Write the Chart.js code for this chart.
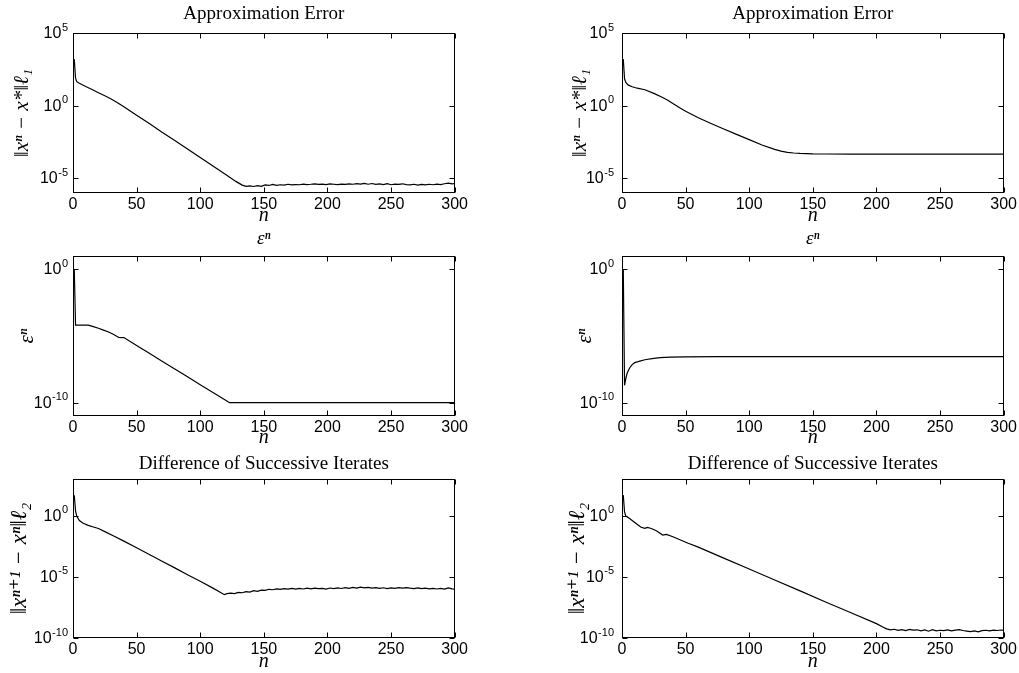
<!DOCTYPE html>
<html>
<head>
<meta charset="utf-8">
<title>Convergence history</title>
<script src="https://cdn.jsdelivr.net/npm/chart.js@4.4.1/dist/chart.umd.min.js"></script>
<style>
  html, body { margin: 0; padding: 0; background: #fff; }
  #fig { position: relative; width: 1019px; height: 673px; overflow: hidden; }
  .panel { position: absolute; }
</style>
</head>
<body>
<div id="fig"></div>
<script>
// approximation error, first run
const errLeftN = [
  1, 2, 3, 5, 10, 15, 20, 25, 30, 35,
  40, 50, 60, 70, 80, 90, 100, 110, 120, 128,
  133, 136, 139, 142, 145, 148, 151, 154, 157, 160,
  163, 166, 169, 172, 175, 178, 181, 184, 187, 190,
  193, 196, 199, 202, 205, 208, 211, 214, 217, 220,
  223, 226, 229, 232, 235, 238, 241, 244, 247, 250,
  253, 256, 259, 262, 265, 268, 271, 274, 277, 280,
  283, 286, 289, 292, 295, 298, 300
]
const errLeftY = [
  1.6e3, 79, 45, 35, 21, 13, 7.9, 4.8, 2.9, 1.6,
  0.85, 0.22, 0.059, 0.015, 4.0e-3, 1.05e-3, 2.75e-4, 7.1e-5, 1.86e-5, 6.3e-6,
  3.5e-6, 2.9e-6, 3.1e-6, 2.8e-6, 3.2e-6, 2.9e-6, 3.6e-6, 3.3e-6, 3.9e-6, 3.4e-6,
  3.7e-6, 3.5e-6, 4.0e-6, 3.6e-6, 3.8e-6, 3.7e-6, 4.1e-6, 3.8e-6, 4.0e-6, 4.3e-6,
  3.9e-6, 4.1e-6, 3.8e-6, 4.2e-6, 4.0e-6, 3.8e-6, 4.1e-6, 3.9e-6, 4.3e-6, 4.0e-6,
  4.4e-6, 4.1e-6, 4.6e-6, 4.0e-6, 4.5e-6, 3.9e-6, 4.2e-6, 3.8e-6, 4.4e-6, 3.7e-6,
  4.1e-6, 3.9e-6, 4.3e-6, 3.8e-6, 3.6e-6, 4.0e-6, 3.5e-6, 3.9e-6, 3.6e-6, 4.0e-6,
  3.7e-6, 4.1e-6, 3.8e-6, 4.3e-6, 4.8e-6, 4.2e-6, 4.5e-6
]

// approximation error, second run
const errRightN = [
  1, 2, 3, 5, 8, 12, 18, 25, 32, 36,
  40, 45, 50, 60, 70, 80, 90, 100, 110, 120,
  125, 130, 135, 140, 150, 160, 180, 200, 250, 300
]
const errRightY = [
  1.6e3, 71, 40, 26, 20, 16, 12.6, 7.1, 3.7, 2.4,
  1.4, 0.76, 0.42, 0.15, 0.060, 0.025, 0.0107, 4.7e-3, 2.0e-3, 1.0e-3,
  7.6e-4, 6.3e-4, 5.6e-4, 5.25e-4, 4.9e-4, 4.8e-4, 4.7e-4, 4.7e-4, 4.7e-4, 4.7e-4
]

// epsilon sequence
const epsLeftN = [1, 2, 12, 16, 20, 24, 28, 32, 35, 36, 40, 50, 60, 70, 80, 90, 100, 110, 120, 123, 300]
const epsLeftY = [
  1, 6.6e-5, 6.6e-5, 5.0e-5, 3.8e-5, 2.75e-5, 2.0e-5, 1.3e-5, 8.9e-6, 7.9e-6,
  7.6e-6, 1.95e-6, 5.0e-7, 1.3e-7, 3.4e-8, 8.7e-9, 2.2e-9, 5.8e-10, 1.5e-10, 1e-10, 1e-10
]
const epsRightN = [1, 2, 3, 4, 6, 8, 10, 14, 18, 25, 30, 38, 50, 75, 100, 300]
const epsRightY = [
  1, 2.0e-9, 6.3e-9, 1.6e-8, 4.0e-8, 7.1e-8, 1.0e-7, 1.3e-7, 1.66e-7, 2.1e-7,
  2.35e-7, 2.6e-7, 2.75e-7, 2.8e-7, 2.8e-7, 2.8e-7
]

// difference of successive iterates
const diffLeftN = [
  1, 2, 3, 5, 8, 12, 16, 20, 25, 32,
  40, 50, 60, 70, 80, 90, 100, 110, 119, 121,
  124, 127, 130, 133, 136, 139, 142, 145, 148, 151,
  154, 157, 160, 163, 166, 169, 172, 175, 178, 181,
  184, 187, 190, 193, 196, 199, 202, 205, 208, 211,
  214, 217, 220, 223, 226, 229, 232, 235, 238, 241,
  244, 247, 250, 253, 256, 259, 262, 265, 268, 271,
  274, 277, 280, 283, 286, 289, 292, 295, 298, 300
]
const diffLeftY = [
  47, 2.5, 0.89, 0.40, 0.24, 0.16, 0.12, 0.089, 0.05, 0.022,
  8.3e-3, 2.4e-3, 6.8e-4, 1.9e-4, 5.4e-5, 1.5e-5, 4.3e-6, 1.2e-6, 3.5e-7, 4.2e-7,
  4.6e-7, 4.3e-7, 5.4e-7, 5.0e-7, 6.2e-7, 5.6e-7, 7.4e-7, 6.6e-7, 8.3e-7, 7.8e-7,
  9.6e-7, 8.8e-7, 1.05e-6, 9.5e-7, 1.1e-6, 9.8e-7, 1.15e-6, 1.0e-6, 1.12e-6, 1.02e-6,
  1.18e-6, 1.05e-6, 1.2e-6, 1.08e-6, 1.15e-6, 1.0e-6, 1.22e-6, 1.1e-6, 1.25e-6, 1.12e-6,
  1.3e-6, 1.15e-6, 1.35e-6, 1.2e-6, 1.42e-6, 1.25e-6, 1.38e-6, 1.2e-6, 1.32e-6, 1.15e-6,
  1.28e-6, 1.1e-6, 1.25e-6, 1.15e-6, 1.3e-6, 1.2e-6, 1.32e-6, 1.18e-6, 1.1e-6, 1.25e-6,
  1.08e-6, 1.2e-6, 1.05e-6, 1.15e-6, 1.02e-6, 1.12e-6, 1.0e-6, 1.25e-6, 1.05e-6, 1.0e-6
]
const diffRightN = [
  1, 2, 3, 6, 10, 15, 18, 20, 23, 27,
  32, 35, 40, 46, 52, 59, 80, 100, 120, 140,
  160, 180, 200, 205, 208, 211, 214, 217, 220, 223,
  226, 229, 232, 235, 238, 241, 244, 247, 250, 253,
  256, 259, 262, 265, 268, 271, 274, 277, 280, 283,
  286, 289, 292, 295, 298, 300
]
const diffRightY = [
  49, 2.0, 0.93, 0.60, 0.28, 0.112, 0.093, 0.112, 0.089, 0.059,
  0.026, 0.030, 0.019, 0.0102, 5.6e-3, 2.95e-3, 3.4e-4, 4.4e-5, 5.5e-6, 7.1e-7,
  8.9e-8, 1.15e-8, 1.5e-9, 7.9e-10, 5.6e-10, 4.6e-10, 5.2e-10, 4.2e-10, 4.8e-10, 4.0e-10,
  5.0e-10, 4.4e-10, 4.7e-10, 3.9e-10, 4.6e-10, 3.6e-10, 4.8e-10, 3.8e-10, 4.3e-10, 4.0e-10,
  4.6e-10, 3.9e-10, 4.4e-10, 4.8e-10, 4.1e-10, 3.7e-10, 3.3e-10, 3.8e-10, 3.2e-10, 4.0e-10,
  4.3e-10, 3.8e-10, 4.4e-10, 4.1e-10, 4.5e-10, 4.2e-10
]

// tick positions
const nTicks = [0, 50, 100, 150, 200, 250, 300]
const errTicks = [1e-5, 1e0, 1e5]
const epsTicks = [1e-10, 1e0]
const diffTicks = [1e-10, 1e-5, 1e0]

const sansFont = "'Liberation Sans', Arial, 'DejaVu Sans', sans-serif"
const serifFont = "'Liberation Serif', 'DejaVu Serif', serif"

// column / row geometry of the subplot grid
const cols = [
  { left: 0, width: 470, axisW: 73, padRight: 13, labelPad: 10, tickGap: 5 },
  { left: 524, width: 495, axisW: 98, padRight: 15, labelPad: 44, tickGap: 8 }
]
const rows = [
  {
    top: 0, height: 226, topH: 33, bottomH: 33, titlePad: 2.8, nPad: -1.6, labelShift: 0, labelSize: 21,
    title: 'Approximation Error', titleItalic: false,
    yLabel: '‖xⁿ − x*‖ℓ₁', yMin: 1e-6, yMax: 1e5, yTicks: errTicks
  },
  {
    top: 226, height: 222, topH: 30, bottomH: 32, titlePad: 1.6, nPad: -1.6, labelShift: 5, labelSize: 21,
    title: 'εⁿ', titleItalic: true,
    yLabel: 'εⁿ', yMin: 1e-11, yMax: 1e1, yTicks: epsTicks
  },
  {
    top: 448, height: 225, topH: 31, bottomH: 35, titlePad: 4.2, nPad: -1, labelShift: -4, labelSize: 23,
    title: 'Difference of Successive Iterates', titleItalic: false,
    yLabel: '‖xⁿ⁺¹ − xⁿ‖ℓ₂', yMin: 1e-10, yMax: 1e3, yTicks: diffTicks
  }
]

const panels = [
  { row: 0, col: 0, n: errLeftN, y: errLeftY },
  { row: 0, col: 1, n: errRightN, y: errRightY },
  { row: 1, col: 0, n: epsLeftN, y: epsLeftY },
  { row: 1, col: 1, n: epsRightN, y: epsRightY },
  { row: 2, col: 0, n: diffLeftN, y: diffLeftY },
  { row: 2, col: 1, n: diffRightN, y: diffRightY }
]

const makeData = (ns, vs) => ns.map((n, i) => ({ x: n, y: vs[i] }))

// "10" with a raised exponent, right edge at `right`, centred on y
const drawPowLabel = (ctx, right, y, v) => {
  const exp = String(Math.round(Math.log10(v)))
  ctx.font = `11px ${sansFont}`
  const ew = ctx.measureText(exp).width
  ctx.textAlign = 'left'
  ctx.textBaseline = 'alphabetic'
  ctx.fillText(exp, right - ew, y - 2.5)
  ctx.font = `16px ${sansFont}`
  ctx.textAlign = 'right'
  ctx.textBaseline = 'middle'
  ctx.fillText('10', right - ew - 0.5, y + 0.5)
}

// matlab-style box with inward ticks on all four sides, plus log tick labels
const boxPlugin = {
  id: 'box',
  afterDraw: (chart, args, opts) => {
    const { ctx, chartArea: a, scales } = chart
    const len = 5
    const L = Math.round(a.left) + 0.5
    const R = Math.round(a.right) - 0.5
    const T = Math.round(a.top) + 0.5
    const B = Math.round(a.bottom) - 0.5
    ctx.save()
    ctx.strokeStyle = '#000'
    ctx.lineWidth = 1
    ctx.strokeRect(L, T, R - L, B - T)
    ctx.beginPath()
    scales.x.ticks.forEach(t => {
      const px = Math.round(scales.x.getPixelForValue(t.value)) + 0.5
      ctx.moveTo(px, B)
      ctx.lineTo(px, B - len)
      ctx.moveTo(px, T)
      ctx.lineTo(px, T + len)
    })
    scales.y.ticks.forEach(t => {
      const py = Math.round(scales.y.getPixelForValue(t.value)) + 0.5
      ctx.moveTo(L, py)
      ctx.lineTo(L + len, py)
      ctx.moveTo(R, py)
      ctx.lineTo(R - len, py)
    })
    ctx.stroke()
    ctx.fillStyle = '#000'
    scales.y.ticks.forEach(t => {
      drawPowLabel(ctx, a.left - opts.gap, scales.y.getPixelForValue(t.value), t.value)
    })
    ctx.restore()
  }
}

const fig = document.getElementById('fig')

panels.forEach(p => {
  const row = rows[p.row]
  const col = cols[p.col]
  const box = document.createElement('div')
  box.className = 'panel'
  box.style.left = col.left + 'px'
  box.style.top = row.top + 'px'
  box.style.width = col.width + 'px'
  box.style.height = row.height + 'px'
  const canvas = document.createElement('canvas')
  box.appendChild(canvas)
  fig.appendChild(box)

  new Chart(canvas, {
    type: 'line',
    data: {
      datasets: [{
        data: makeData(p.n, p.y),
        borderColor: '#000',
        borderWidth: 1.2,
        pointRadius: 0,
        tension: 0,
        fill: false
      }]
    },
    options: {
      responsive: true,
      maintainAspectRatio: false,
      animation: false,
      events: [],
      layout: { padding: { left: 0, right: col.padRight, top: 0, bottom: 0 } },
      plugins: {
        legend: { display: false },
        tooltip: { enabled: false },
        box: { gap: col.tickGap }
      },
      scales: {
        x: {
          type: 'linear',
          position: 'bottom',
          min: 0,
          max: 300,
          afterBuildTicks: s => { s.ticks = nTicks.map(v => ({ value: v })) },
          afterFit: s => { s.height = row.bottomH },
          grid: { display: false, drawTicks: false },
          border: { display: false },
          ticks: { autoSkip: false, maxRotation: 0, padding: 2, color: '#000', font: { family: sansFont, size: 16 } },
          title: {
            display: true,
            text: 'n',
            color: '#000',
            padding: { top: 0, bottom: row.nPad },
            font: { family: serifFont, size: 20, style: 'italic' }
          }
        },
        xTop: {
          type: 'linear',
          axis: 'x',
          position: 'top',
          afterFit: s => { s.height = row.topH },
          grid: { display: false, drawTicks: false },
          border: { display: false },
          ticks: { display: false },
          title: {
            display: true,
            text: row.title,
            color: '#000',
            padding: { top: row.titlePad, bottom: 0 },
            font: { family: serifFont, size: 19, style: row.titleItalic ? 'italic' : 'normal' }
          }
        },
        y: {
          type: 'logarithmic',
          position: 'left',
          min: row.yMin,
          max: row.yMax,
          afterBuildTicks: s => { s.ticks = row.yTicks.map(v => ({ value: v })) },
          afterFit: s => { s.width = col.axisW },
          grid: { display: false, drawTicks: false },
          border: { display: false },
          ticks: { display: false },
          title: {
            display: true,
            text: row.yLabel,
            color: '#000',
            padding: { top: col.labelPad + row.labelShift, bottom: 0 },
            font: { family: serifFont, size: row.labelSize, style: 'italic' }
          }
        }
      }
    },
    plugins: [boxPlugin]
  })
})
</script>
</body>
</html>
